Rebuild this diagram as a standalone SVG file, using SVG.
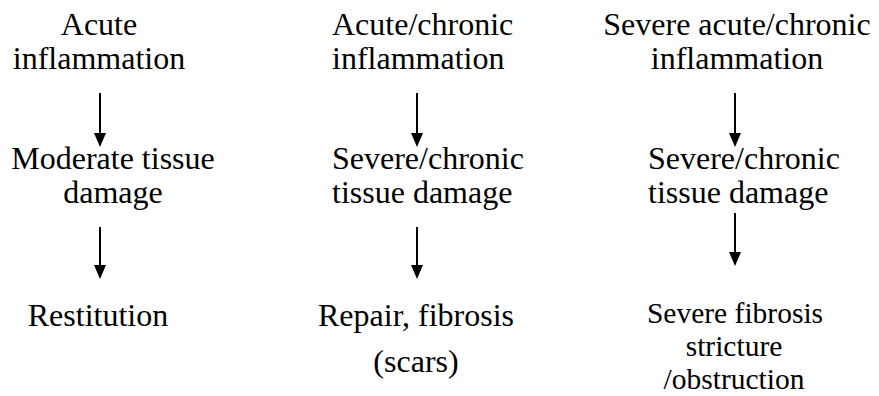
<svg xmlns="http://www.w3.org/2000/svg" width="879" height="396" viewBox="0 0 879 396" font-family="Liberation Serif, Times New Roman, serif">
<style>
text{font-family:"Liberation Serif","Times New Roman",serif;font-size:32px;fill:#000;text-anchor:middle}
.l{text-anchor:start}
.s{font-size:29.5px}
.c{stroke:#000;stroke-width:2;fill:none}
</style>
<defs>
<marker id="ah" markerUnits="userSpaceOnUse" viewBox="0 0 14 12" markerWidth="14" markerHeight="12" refX="8" refY="6" orient="auto"><path d="M0,0 L14,6 L0,12 Z" fill="#000"/></marker>
</defs>
<rect width="879" height="396" fill="#fff"/>
<g id="connectors">
<line class="c" x1="100" y1="93" x2="100" y2="141" marker-end="url(#ah)"/>
<line class="c" x1="100" y1="227" x2="100" y2="273" marker-end="url(#ah)"/>
<line class="c" x1="417" y1="93" x2="417" y2="141" marker-end="url(#ah)"/>
<line class="c" x1="417" y1="227" x2="417" y2="273" marker-end="url(#ah)"/>
<line class="c" x1="735" y1="93" x2="735" y2="141" marker-end="url(#ah)"/>
<line class="c" x1="735" y1="213" x2="735" y2="260" marker-end="url(#ah)"/>
</g>
<g id="n1"><text x="99" y="35">Acute</text><text x="99" y="69">inflammation</text></g>
<g id="n2"><text class="l" x="332" y="35">Acute/chronic</text><text class="l" x="332" y="69">inflammation</text></g>
<g id="n3"><text x="737" y="35">Severe acute/chronic</text><text x="737" y="69">inflammation</text></g>
<g id="n4"><text x="113" y="169">Moderate tissue</text><text x="113" y="203">damage</text></g>
<g id="n5"><text class="l" x="332" y="169">Severe/chronic</text><text class="l" x="332" y="203">tissue damage</text></g>
<g id="n6"><text class="l" x="648" y="169">Severe/chronic</text><text class="l" x="648" y="203">tissue damage</text></g>
<g id="n7"><text x="98" y="326">Restitution</text></g>
<g id="n8"><text x="416" y="326">Repair, fibrosis</text><text x="416" y="372">(scars)</text></g>
<g id="n9"><text class="s" x="735" y="323">Severe fibrosis</text><text class="s" x="734" y="356">stricture</text><text class="s" x="734" y="389">/obstruction</text></g>
</svg>
